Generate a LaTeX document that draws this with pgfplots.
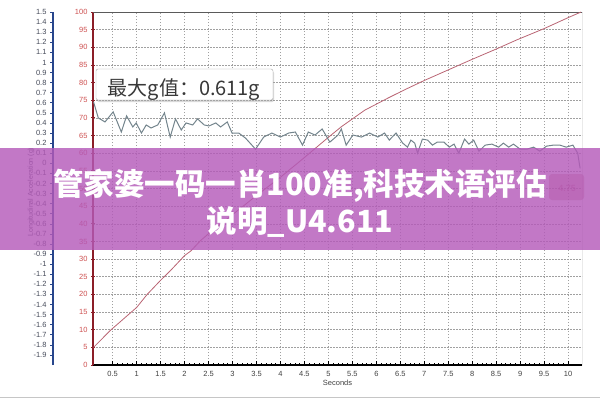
\documentclass[border=0pt]{standalone}
\usepackage{pgfplots}
\pgfplotsset{compat=1.18}
\usepackage{fontspec}
\setmainfont{Liberation Sans}
\newfontfamily\cjk{Noto Sans CJK SC}
\usetikzlibrary{shadows}

\definecolor{spdlab}{RGB}{205,80,80}
\definecolor{spdaxis}{RGB}{140,30,40}
\definecolor{spdline}{RGB}{185,100,115}
\definecolor{accline}{RGB}{115,132,140}
\definecolor{accaxis}{RGB}{40,70,140}
\definecolor{acclab}{RGB}{70,75,90}
\definecolor{gridc}{RGB}{160,160,160}
\definecolor{bordergray}{RGB}{90,90,90}
\definecolor{banner}{RGB}{180,90,185}
\definecolor{blotch}{RGB}{170,40,70}

\begin{document}
\begin{tikzpicture}[x=1bp,y=1bp]
\path[use as bounding box] (0,0) rectangle (600,400);

% speed axis (right-hand scale in the original, drawn at the plot's left edge)
\begin{axis}[
  at={(93bp,35bp)}, anchor=south west,
  scale only axis, width=489bp, height=353bp,
  xmin=0.09, xmax=10.29, ymin=0, ymax=100,
  axis x line*=bottom, axis y line*=left,
  x axis line style={-, black, line width=1.6bp},
  y axis line style={-, spdaxis, line width=1.6bp},
  xtick={0.5,1,...,10}, minor x tick num=4,
  ytick={0,5,...,100},
  xtick align=inside, ytick align=center,
  major tick length=4bp, minor tick length=2.5bp,
  xtick style={black, line width=0.6bp},
  ytick style={spdaxis, line width=0.8bp},
  grid=major,
  major grid style={gridc, line width=0.6bp, dash pattern=on 1.5bp off 1.5bp},
  /pgf/number format/assume math mode=true,
  tick label style={font=\fontsize{7.5bp}{9bp}\selectfont},
  xticklabel style={anchor=base, yshift=-11bp, color=black!75},
  yticklabel style={anchor=east, color=spdlab},
  xlabel={Seconds},
  every axis x label/.style={at={(rel axis cs:0.5,0)}, yshift=-18bp, anchor=center,
    font=\fontsize{7.5bp}{9bp}\selectfont, color=black!75},
]
\draw[bordergray, line width=0.8bp] (rel axis cs:0,1) -- (rel axis cs:1,1) -- (rel axis cs:1,0);
\addplot[spdline, line width=0.8bp, mark=none] coordinates {
(0.10,5.0) (0.46,9.9) (1.00,16.3) (1.22,20.0) (1.50,24.0) (1.71,26.8)
(2.00,31.0) (2.13,32.3) (2.33,35.2) (2.50,37.2) (3.00,42.6) (3.50,48.0)
(4.00,53.2) (4.44,58.1) (5.00,64.5) (5.27,67.5) (5.76,72.2) (6.24,75.6)
(6.58,77.9) (7.00,80.6) (7.50,83.6) (8.00,86.6) (8.50,89.5) (8.93,92.1)
(9.50,95.3) (10.00,98.4) (10.27,100.0)
};
\end{axis}

% acceleration axis
\begin{axis}[
  at={(53bp,35bp)}, anchor=south west,
  scale only axis, width=529bp, height=353bp,
  xmin=-0.745, xmax=10.29, ymin=-2, ymax=1.5,
  axis x line=none, axis y line*=left,
  y axis line style={-, accaxis, line width=1.6bp},
  ytick={-1.9,-1.8,-1.7,-1.6,-1.5,-1.4,-1.3,-1.2,-1.1,-1,-0.9,-0.8,-0.7,-0.6,-0.5,
    -0.4,-0.3,-0.2,-0.1,0,0.1,0.2,0.3,0.4,0.5,0.6,0.7,0.8,0.9,1,1.1,1.2,1.3,1.4,1.5},
  ytick align=outside, major tick length=3bp,
  ytick style={accaxis, line width=0.6bp},
  /pgf/number format/.cd, fixed, precision=1, assume math mode=true, /pgfplots/.cd,
  yticklabel style={anchor=east, font=\fontsize{7.5bp}{9bp}\selectfont, color=acclab},
  ylabel={Longitudinal Acceleration (g)},
  every axis y label/.style={at={(rel axis cs:0,0.49)}, xshift=-22bp, rotate=90,
    anchor=center, font=\fontsize{7bp}{8bp}\selectfont, color=acclab},
]
\addplot[accline, line width=1bp, mark=none] coordinates {
(0.10,0.61) (0.20,0.45) (0.34,0.41) (0.51,0.51) (0.68,0.31) (0.79,0.47)
(0.92,0.36) (0.99,0.40) (1.10,0.30) (1.20,0.38) (1.30,0.35) (1.44,0.38)
(1.58,0.50) (1.70,0.26) (1.81,0.44) (1.93,0.33) (2.03,0.40) (2.17,0.38)
(2.27,0.44) (2.41,0.38) (2.51,0.37) (2.65,0.40) (2.75,0.36) (2.89,0.41)
(2.99,0.30) (3.13,0.30) (3.27,0.25) (3.48,0.14) (3.65,0.26) (3.82,0.30)
(4.00,0.26) (4.17,0.30) (4.31,0.31) (4.46,0.18) (4.58,0.31) (4.72,0.28)
(4.87,0.34) (5.03,0.21) (5.20,0.28) (5.27,0.34) (5.37,0.18) (5.51,0.28)
(5.69,0.26) (5.86,0.30) (6.03,0.26) (6.17,0.30) (6.27,0.23) (6.41,0.30)
(6.55,0.20) (6.65,0.16) (6.72,0.23) (6.80,0.20) (6.86,0.10) (6.96,0.24)
(7.07,0.23) (7.17,0.18) (7.27,0.21) (7.41,0.21) (7.52,0.16) (7.62,0.19)
(7.72,0.10) (7.84,0.24) (7.93,0.19) (8.03,0.23) (8.14,0.12) (8.27,0.18)
(8.41,0.19) (8.55,0.16) (8.65,0.20) (8.76,0.16) (8.86,0.19) (9.00,0.14)
(9.14,0.14) (9.28,0.16) (9.41,0.12) (9.55,0.17) (9.69,0.18) (9.83,0.18)
(9.96,0.16) (10.10,0.18) (10.20,0.10) (10.25,-0.05)
};
\end{axis}

% max g box
\draw[gray!70, fill=white, rounded corners=2bp,
  drop shadow={opacity=0.3, shadow xshift=1bp, shadow yshift=-2bp}]
  (96,300) rectangle (273,331);
\node[anchor=base, inner sep=0pt, text=black!78] at (184,304.5)
  {\cjk\fontsize{20bp}{24bp}\selectfont 最大g值：0.611g};

% faint red blotch at the right edge, under the banner
\fill[blotch, opacity=0.35, rounded corners=3bp] (549,200) rectangle (584,226);
\node[text=blotch, opacity=0.45, inner sep=0pt, font=\fontsize{9bp}{10bp}\selectfont\bfseries] at (567,212) {4.75};

% overlay banner
\fill[banner, opacity=0.82] (0,150) rectangle (600,252);
\node[anchor=base, inner sep=0pt, text=white] at (300,205)
  {\cjk\bfseries\fontsize{30.5bp}{34bp}\selectfont 管家婆一码一肖100准,科技术语评估};
\node[anchor=base, inner sep=0pt, text=white] at (300,168)
  {\cjk\bfseries\fontsize{30.5bp}{34bp}\selectfont 说明\_U4.611};

\draw[gray!45, line width=1bp] (0,3) -- (600,3);
\end{tikzpicture}
\end{document}
